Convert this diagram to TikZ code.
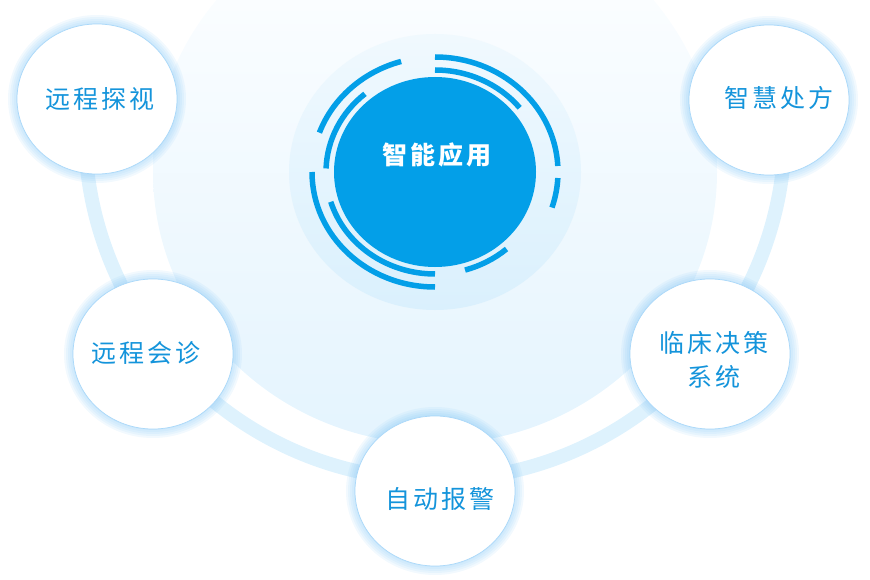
\documentclass[tikz,border=0pt]{standalone}
\usepackage{fontspec}
\setmainfont{Noto Sans CJK SC}
\usepackage{tikz}

\definecolor{appblue}{HTML}{039FE8}
\definecolor{textblue}{HTML}{1494DB}
\definecolor{bandblue}{HTML}{DEF2FD}
\definecolor{paleblue}{HTML}{E4F4FE}
\definecolor{haloblue}{HTML}{DAF0FD}
\definecolor{glowblue}{HTML}{86C8F7}

\begin{document}
\begin{tikzpicture}[x=1pt,y=1pt]
\tikzstyle{every node}+=[inner sep=0pt]
\tikzstyle{satlabel}=[text=textblue, align=center, font=\fontsize{25}{34}\selectfont\addfontfeature{LetterSpace=12}]
\tikzstyle{ringarc}=[appblue, line width=5.5]
\useasboundingbox (0,0) rectangle (870,-580);
% backdrop
\shade [top color=white, bottom color=paleblue] (435,-172) ellipse (282 and 272);
\draw [bandblue, line width=14] (435,-130) ++(175:350) arc (175:365:350);
% hub
\shade [top color=white!60!haloblue, bottom color=haloblue] (435,-172) ellipse (146 and 138);
\fill [appblue] (435,-172) ellipse (101 and 95);
\draw [ringarc] (435,-172) ++(90:123 and 115) arc (90:3:123 and 115);
\draw [ringarc] (435,-172) ++(-3:123 and 115) arc (-3:-18:123 and 115);
\draw [ringarc] (435,-172) ++(106:123 and 115) arc (106:160:123 and 115);
\draw [ringarc] (435,-172) ++(180:123 and 115) arc (180:270:123 and 115);
\draw [ringarc] (435,-172) ++(90:109 and 102) arc (90:39:109 and 102);
\draw [ringarc] (435,-172) ++(130:109 and 102) arc (130:178:109 and 102);
\draw [ringarc] (435,-172) ++(197:109 and 102) arc (197:270:109 and 102);
\draw [ringarc] (435,-172) ++(-74:109 and 102) arc (-74:-49:109 and 102);
\node (hub) [text=white, font=\fontsize{25}{30}\selectfont\bfseries\addfontfeature{LetterSpace=12}] at (437,-155) {智能应用};
% satellites
\foreach \x/\y in {97/99, 769/100, 153/354, 710/354, 435/491} {
  \foreach \g in {9,7,...,1}
    \fill [glowblue, opacity=0.11] (\x,-\y) ellipse ({80+\g} and {75+\g});
  \fill [white] (\x,-\y) ellipse (80 and 75);
  \draw [glowblue!70, line width=0.7] (\x,-\y) ellipse (80 and 75);
}
\node (tanshi) [satlabel] at (100,-99) {远程探视};
\node (chufang) [satlabel] at (779,-98) {智慧处方};
\node (huizhen) [satlabel] at (146,-353) {远程会诊};
\node (juece) [satlabel] at (714,-360) {临床决策\\系统};
\node (baojing) [satlabel] at (440,-499) {自动报警};
\end{tikzpicture}
\end{document}
